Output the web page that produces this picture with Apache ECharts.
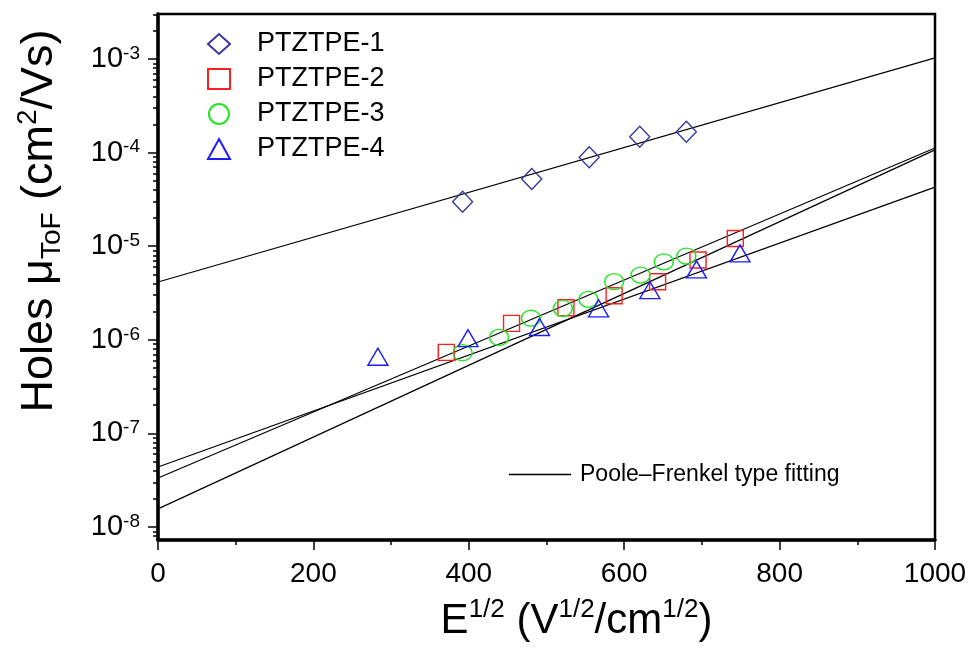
<!DOCTYPE html>
<html>
<head>
<meta charset="utf-8">
<script src="https://cdn.jsdelivr.net/npm/echarts@6/dist/echarts.min.js"></script>
<style>html,body{margin:0;background:#fff}#chart{width:978px;height:652px}</style>
</head>
<body>
<div id="chart"></div>
<script>
// measured points, E^1/2 (V^1/2/cm^1/2) vs hole mobility (cm2/Vs)
var names = ['PTZTPE-1', 'PTZTPE-2', 'PTZTPE-3', 'PTZTPE-4'];
var symbols = ['diamond', 'rect', 'circle', 'triangle'];
var colors = ['#38389c', '#ff1f1f', '#22e622', '#1c1cff'];
var sizes = [[20, 21], [16, 16], [19, 16], [20, 17]];

var x1 = [392, 481, 555, 620, 680];
var y1 = [2.98e-5, 5.23e-5, 8.91e-5, 1.48e-4, 1.67e-4];
var x2 = [371, 455, 525, 587, 643, 695, 743];
var y2 = [7.35e-7, 1.50e-6, 2.20e-6, 2.96e-6, 4.18e-6, 7.13e-6, 1.21e-5];
var x3 = [392, 439, 480, 521, 554, 587, 621, 651, 680];
var y3 = [7.28e-7, 1.06e-6, 1.70e-6, 2.17e-6, 2.71e-6, 4.18e-6, 4.92e-6, 6.82e-6, 7.85e-6];
var x4 = [283, 399, 491, 567, 633, 693, 749];
var y4 = [6.59e-7, 1.04e-6, 1.37e-6, 2.17e-6, 3.40e-6, 5.66e-6, 8.39e-6];

// Poole-Frenkel fit lines, value at x=0 and x=1000
var fitX = [0, 1000];
var fitStart = [4.15e-6, 3.34e-8, 1.56e-8, 4.37e-8];
var fitEnd = [1.03e-3, 1.12e-4, 1.07e-4, 4.28e-5];
var fitName = 'Poole\u2013Frenkel type fitting';

var xTicks = [0, 200, 400, 600, 800, 1000];
var yMin = 7.26e-9, yMax = 3.03e-3;

var font = "'Liberation Sans', Arial, sans-serif";

function zip(xs, ys) {
    return xs.map(function (x, i) { return [x, ys[i]]; });
}
var xs = [x1, x2, x3, x4];
var ys = [y1, y2, y3, y4];

// minor log ticks 2..9 of each decade
var minorY = [];
for (var n = -9; n <= -3; n++) {
    for (var k = 2; k <= 9; k++) {
        var v = k * Math.pow(10, n);
        if (v > yMin && v < yMax) minorY.push(v);
    }
}

var series = [];
for (var i = 0; i < 4; i++) {
    series.push({
        type: 'line',
        name: fitName,
        data: [[fitX[0], fitStart[i]], [fitX[1], fitEnd[i]]],
        symbol: 'none',
        silent: true,
        lineStyle: { color: '#000', width: 1.2 },
        itemStyle: { color: '#000' },
        z: 1
    });
}
for (var j = 0; j < 4; j++) {
    series.push({
        type: 'scatter',
        name: names[j],
        data: zip(xs[j], ys[j]),
        symbol: symbols[j],
        symbolSize: sizes[j],
        itemStyle: { color: 'rgba(255,255,255,0)', borderColor: colors[j], borderWidth: 1.4, opacity: 1 },
        emphasis: { disabled: true },
        z: 3
    });
}

var myChart = echarts.init(document.getElementById('chart'));
myChart.setOption({
    animation: false,
    backgroundColor: '#fff',
    textStyle: { fontFamily: font },
    grid: {
        left: 158, right: 43, top: 14, bottom: 112,
        show: true, borderColor: '#000', borderWidth: 2.5,
        outerBoundsMode: 'none'
    },
    legend: [{
        data: names,
        orient: 'vertical',
        left: 202, top: 24,
        itemWidth: 22, itemHeight: 20, itemGap: 5,
        textStyle: { fontSize: 27, color: '#000', fontFamily: font, lineHeight: 30, padding: [0, 0, 0, 22] }
    }, {
        data: [{ name: fitName, icon: 'rect' }],
        left: 504, top: 458,
        itemWidth: 62, itemHeight: 1.5,
        itemStyle: { color: '#000', borderWidth: 0 },
        textStyle: { fontSize: 23, color: '#000', fontFamily: font, padding: [0, 0, 0, 4] }
    }],
    xAxis: {
        type: 'value',
        min: 0, max: 1000, interval: 200,
        axisLine: { lineStyle: { color: '#000', width: 3.5 } },
        axisTick: { length: 10, lineStyle: { color: '#000', width: 1.5 } },
        minorTick: { show: true, splitNumber: 2, length: 5, lineStyle: { color: '#000', width: 1.5 } },
        splitLine: { show: false },
        axisLabel: {
            fontSize: 28, color: '#000', margin: 20, fontFamily: font,
            formatter: function (v) { return String(v); }
        },
        name: '{b|E}{s|1/2}{b| (V}{s|1/2}{b|/cm}{s|1/2}{b|)}',
        nameLocation: 'middle',
        nameGap: 57,
        nameTextStyle: {
            color: '#000', fontFamily: font, padding: [0, 0, 0, 60],
            rich: {
                b: { fontSize: 42, lineHeight: 48, fontFamily: font, color: '#000' },
                s: { fontSize: 26, lineHeight: 26, verticalAlign: 'top', fontFamily: font, color: '#000' }
            }
        }
    },
    yAxis: [{
        type: 'log',
        logBase: 10,
        min: yMin, max: yMax,
        axisLine: { lineStyle: { color: '#000', width: 3.5 } },
        axisTick: { length: 10, lineStyle: { color: '#000', width: 1.5 } },
        splitLine: { show: false },
        axisLabel: {
            showMinLabel: false, showMaxLabel: false,
            margin: 18,
            formatter: function (v) {
                return '{b|10}{s|' + Math.round(Math.log10(v)) + '}';
            },
            rich: {
                b: { fontSize: 29, lineHeight: 30, color: '#000', fontFamily: font },
                s: { fontSize: 19, lineHeight: 19, verticalAlign: 'top', color: '#000', fontFamily: font }
            }
        },
        name: '{b|Holes \u03bc}{u|ToF}{b| (cm}{s|2}{b|/Vs)}',
        nameLocation: 'middle',
        nameGap: 92,
        nameTextStyle: {
            color: '#000', fontFamily: font, padding: [0, 0, 0, 112],
            rich: {
                b: { fontSize: 45, lineHeight: 52, fontFamily: font, color: '#000' },
                u: { fontSize: 28, lineHeight: 28, verticalAlign: 'bottom', fontFamily: font, color: '#000' },
                s: { fontSize: 28, lineHeight: 28, verticalAlign: 'top', fontFamily: font, color: '#000' }
            }
        }
    }, {
        type: 'log',
        logBase: 10,
        position: 'left',
        min: yMin, max: yMax,
        axisLine: { show: false },
        axisLabel: { show: false },
        splitLine: { show: false },
        axisTick: { customValues: minorY, length: 5, lineStyle: { color: '#000', width: 1.5 } }
    }],
    series: series
});
</script>
</body>
</html>
